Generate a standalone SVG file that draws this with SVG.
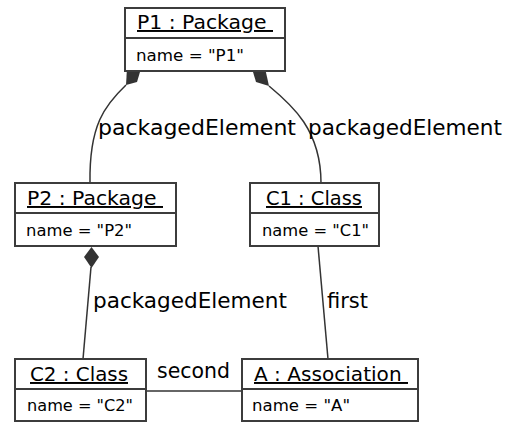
<svg xmlns="http://www.w3.org/2000/svg" width="514" height="423" viewBox="0 0 514 423">
<style>
.box{fill:#fff;stroke:#3c3c3c;stroke-width:2}
.div{stroke:#3c3c3c;stroke-width:2}
.title{font-family:"DejaVu Sans",sans-serif;font-size:19.5px;fill:#000;text-decoration:underline}
.attr{font-family:"DejaVu Sans",sans-serif;font-size:16.3px;fill:#000}
.lbl{font-family:"DejaVu Sans",sans-serif;font-size:21px;fill:#000}
.ln{fill:none;stroke:#333;stroke-width:1.5}
.dia{fill:#333;stroke:none}
</style>
<rect width="514" height="423" fill="#fff"/>
<g id="connectors">
<path class="ln" d="M126,85 C105,105 89,125 90,183"/>
<polygon class="dia" points="126,85 137,82 143,62 127,68"/>
<path class="ln" d="M269,86 C292,105 321,130 321,183"/>
<polygon class="dia" points="269,86 256,82 250,62 265,68"/>
<line class="ln" x1="91" y1="267" x2="83" y2="359"/>
<polygon class="dia" points="91.5,247 99,257 91.5,268 84,257"/>
<line class="ln" x1="318" y1="246" x2="328" y2="359"/>
<line class="ln" x1="146" y1="391" x2="242" y2="391"/>
<text class="lbl" x="98" y="135" textLength="198" lengthAdjust="spacingAndGlyphs">packagedElement</text>
<text class="lbl" x="308" y="135" textLength="194" lengthAdjust="spacingAndGlyphs">packagedElement</text>
<text class="lbl" x="93" y="308" textLength="194" lengthAdjust="spacingAndGlyphs">packagedElement</text>
<text class="lbl" x="327" y="308" textLength="41" lengthAdjust="spacingAndGlyphs">first</text>
<text class="lbl" x="157" y="378" textLength="73" lengthAdjust="spacingAndGlyphs">second</text>
</g>
<g id="P1">
<rect class="box" x="125" y="8" width="160" height="63"/>
<line class="div" x1="125" y1="38" x2="285" y2="38"/>
<text class="title" x="137" y="29" xml:space="preserve" textLength="136" lengthAdjust="spacingAndGlyphs">P1 : Package </text>
<text class="attr" x="136" y="61" textLength="108" lengthAdjust="spacingAndGlyphs">name = "P1"</text>
</g>
<g id="P2">
<rect class="box" x="15" y="183" width="161" height="63"/>
<line class="div" x1="15" y1="213" x2="176" y2="213"/>
<text class="title" x="27" y="205" xml:space="preserve" textLength="136" lengthAdjust="spacingAndGlyphs">P2 : Package </text>
<text class="attr" x="26" y="236" textLength="106" lengthAdjust="spacingAndGlyphs">name = "P2"</text>
</g>
<g id="C1">
<rect class="box" x="250" y="183" width="129" height="63"/>
<line class="div" x1="250" y1="213" x2="379" y2="213"/>
<text class="title" x="266" y="205" textLength="96" lengthAdjust="spacingAndGlyphs">C1 : Class</text>
<text class="attr" x="262" y="236" textLength="107" lengthAdjust="spacingAndGlyphs">name = "C1"</text>
</g>
<g id="C2">
<rect class="box" x="15" y="359" width="131" height="62"/>
<line class="div" x1="15" y1="389" x2="146" y2="389"/>
<text class="title" x="30" y="381" textLength="98" lengthAdjust="spacingAndGlyphs">C2 : Class</text>
<text class="attr" x="27" y="411" textLength="106" lengthAdjust="spacingAndGlyphs">name = "C2"</text>
</g>
<g id="A">
<rect class="box" x="242" y="359" width="176" height="62"/>
<line class="div" x1="242" y1="389" x2="418" y2="389"/>
<text class="title" x="254" y="381" xml:space="preserve" textLength="154" lengthAdjust="spacingAndGlyphs">A : Association </text>
<text class="attr" x="252" y="411" textLength="98" lengthAdjust="spacingAndGlyphs">name = "A"</text>
</g>
</svg>
